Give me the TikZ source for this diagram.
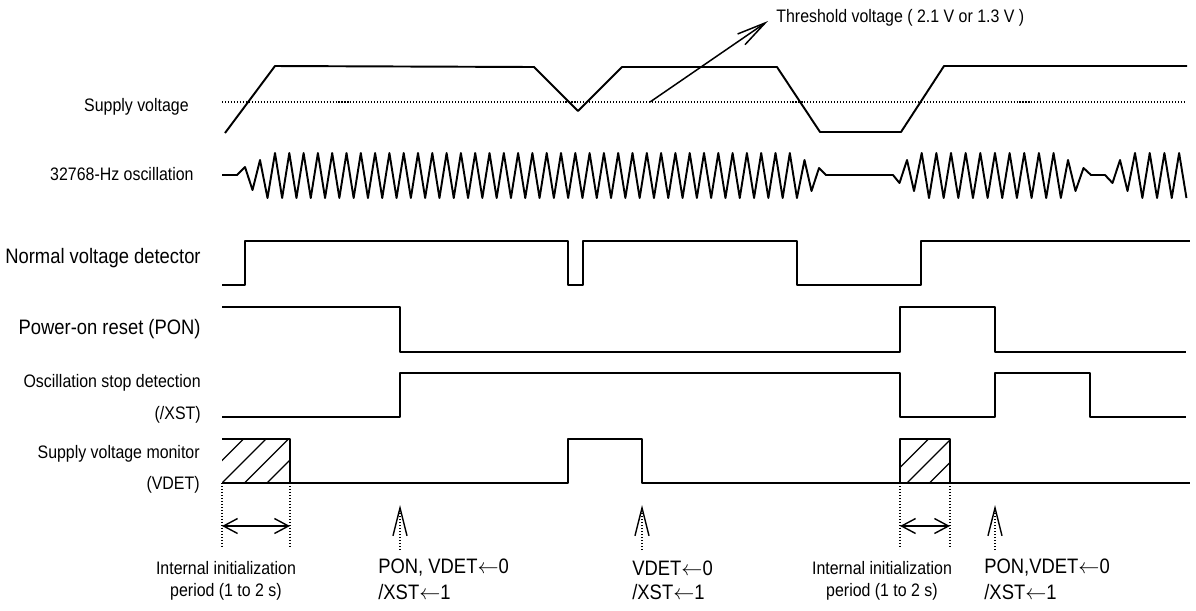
\documentclass[tikz,border=0pt]{standalone}
\usepackage{fontspec}
\setmainfont{Liberation Sans}[FakeStretch=0.88]
\usetikzlibrary{arrows.meta}

\begin{document}
\begin{tikzpicture}[
    x=0.02cm, y=-0.02cm,
    wave/.style={line width=1.1pt, line join=round},
    guide/.style={line width=0.6pt, dash pattern=on 0.6pt off 1.1pt},
    hatchline/.style={line width=0.75pt},
    smalltext/.style={font=\fontsize{10.3}{12}\selectfont, inner sep=0pt},
    bigtext/.style={font=\fontsize{11.9}{14}\selectfont, inner sep=0pt},
    pointer/.style={line width=0.85pt, -{Straight Barb[length=16.5pt, width=7.4pt]}},
    eventarrow/.style={guide, -{Straight Barb[length=15.9pt, width=8pt, line width=0.8pt]}},
    doublearrow/.style={line width=0.8pt,
        {Straight Barb[length=8pt, width=8.5pt]}-{Straight Barb[length=8pt, width=8.5pt]}},
  ]

  % Rahmen
  \useasboundingbox (0,0) rectangle (1196,610);

  % Beschriftungen links
  \node[smalltext, anchor=east] (lblsupply) at (189,107) {Supply voltage};
  \node[smalltext, anchor=east] (lblosc) at (194,174) {32768-Hz oscillation};
  \node[bigtext, anchor=east] (lblnvd) at (201,258) {Normal voltage detector};
  \node[bigtext, anchor=east] (lblpon) at (201,329) {Power-on reset (PON)};
  \node[smalltext, anchor=east] (lblxst) at (201,383) {Oscillation stop detection};
  \node[smalltext, anchor=east] (lblxstb) at (201,415) {(/XST)};
  \node[smalltext, anchor=east] (lblvdet) at (200,454) {Supply voltage monitor};
  \node[smalltext, anchor=east] (lblvdetb) at (200,485) {(VDET)};

  % Versorgungsspannung mit Schwellwert
  \draw[guide] (222,102) -- (1186,102);
  \draw[wave] (225,133) -- (275,66) -- (534,67) -- (578,111) -- (622,67) -- (777,67)
    -- (820,132) -- (901,132) -- (944,66) -- (1187,66);
  \node[smalltext, anchor=west] (thrtext) at (776,18) {Threshold voltage ( 2.1 V or 1.3 V )};
  \coordinate (thrfoot) at (650,102);
  \coordinate (thrtip) at (768,21);
  \draw[pointer] (thrfoot) -- (thrtip);

  % Oszillation
  \draw[wave] (222,175) -- (237,175) -- (245,167) -- (252.5,190) -- (260,160) -- (267.5,198)
    \foreach \i in {0,...,36} { -- ({275+14.3*\i},153) -- ({282.15+14.3*\i},198) }
    -- (804.5,160) -- (811.5,191) -- (819,168) -- (826,175) -- (893,175)
    -- (899.5,183) -- (907,160) -- (914,191)
    \foreach \i in {0,...,9} { -- ({921.7+14.65*\i},153) -- ({929+14.65*\i},198) }
    -- (1068,160) -- (1075.5,191) -- (1083.5,168) -- (1091,175) -- (1105,175)
    -- (1112.5,183) -- (1120,160) -- (1127.5,191)
    \foreach \i in {0,...,3} { -- ({1135+14.7*\i},153) -- ({1142.35+14.7*\i},198) };

  % Digitale Signale
  \draw[wave] (222,285) -- (245,285) -- (245,241) -- (568,241) -- (568,285) -- (583,285)
    -- (583,241) -- (797,241) -- (797,285) -- (921,285) -- (921,241) -- (1190,241);
  \draw[wave] (222,307) -- (400,307) -- (400,352) -- (900,352) -- (900,307) -- (995,307)
    -- (995,352) -- (1186,352);
  \draw[wave] (222,417) -- (400,417) -- (400,373) -- (900,373) -- (900,417) -- (995,417)
    -- (995,373) -- (1090,373) -- (1090,417) -- (1186,417);
  \draw[wave] (222,483) -- (568,483) -- (568,439) -- (642,439) -- (642,483) -- (1190,483);

  % Schraffierte Bereiche (VDET)
  \draw[wave] (222,439) -- (290,439) -- (290,483);
  \draw[wave] (900,483) -- (900,439) -- (950,439) -- (950,483);
  \begin{scope}
    \clip (222,439) rectangle (290,483);
    \foreach \i in {-1,...,2}
      \draw[hatchline] ({222+22.5*\i},483) -- ++(44,-44);
  \end{scope}
  \begin{scope}
    \clip (900,439) rectangle (950,483);
    \foreach \i in {0,...,2}
      \draw[hatchline] ({884.5+22.5*\i},483) -- ++(44,-44);
  \end{scope}

  % Hilfslinien und Doppelpfeile
  \foreach \x/\n in {222/a,290/b,900/c,950/d} {
    \coordinate (g\n o) at (\x,483);
    \coordinate (g\n u) at (\x,547);
    \coordinate (g\n m) at (\x,526);
    \draw[guide] (g\n o) -- (g\n u);
  }
  \draw[doublearrow] (gam) -- (gbm);
  \draw[doublearrow] (gcm) -- (gdm);

  % Ereignispfeile
  \foreach \x/\n in {400/a,642/b,995/c} {
    \coordinate (ev\n o) at (\x,505);
    \coordinate (ev\n u) at (\x,550);
    \draw[eventarrow] (ev\n u) -- (ev\n o);
  }

  % Beschriftungen unten
  \foreach \x/\n in {226/a,882/b} {
    \node[smalltext] (init\n) at (\x,568) {Internal initialization};
    \node[smalltext] (period\n) at (\x,592) {period (1 to 2 s)};
  }
  \node[bigtext, anchor=west] (evtxta) at (378,568) {PON, VDET$\leftarrow$0};
  \node[bigtext, anchor=west] (evxsta) at (378,592) {/XST$\leftarrow$1};
  \node[bigtext, anchor=west] (evtxtb) at (632,568) {VDET$\leftarrow$0};
  \node[bigtext, anchor=west] (evxstb) at (632,592) {/XST$\leftarrow$1};
  \node[bigtext, anchor=west] (evtxtc) at (984,568) {PON,VDET$\leftarrow$0};
  \node[bigtext, anchor=west] (evxstc) at (984,592) {/XST$\leftarrow$1};

\end{tikzpicture}
\end{document}
